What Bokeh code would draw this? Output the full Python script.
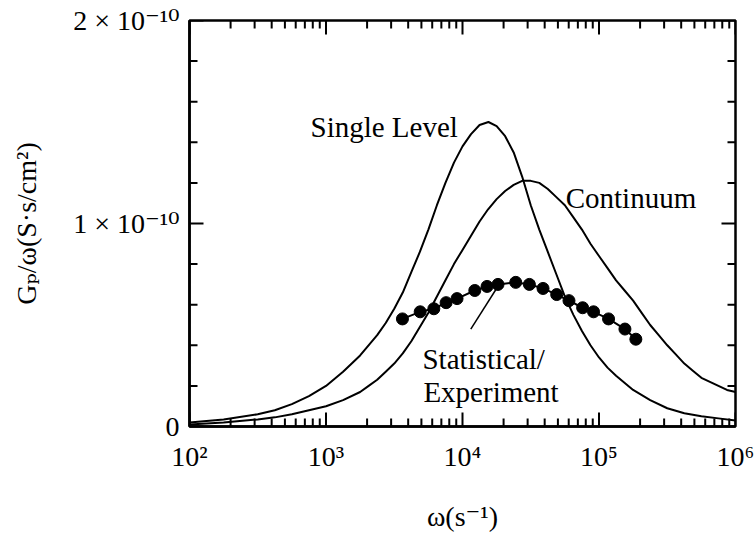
from bokeh.plotting import figure
from bokeh.models import FixedTicker, Label, Range1d
from bokeh.embed import file_html
from bokeh.resources import INLINE

# ---- data (y in units of 1e-10 S·s/cm^2, x as log10(omega)) ----
single_log_w = [2.0, 2.25, 2.5, 2.625, 2.75, 2.875, 3.0, 3.125, 3.25, 3.375, 3.4375,
                3.5, 3.5625, 3.625, 3.6875, 3.75, 3.8125, 3.875, 3.9375, 4.0, 4.0625,
                4.125, 4.19, 4.25, 4.3125, 4.375, 4.4375, 4.5, 4.5625, 4.625, 4.6875,
                4.75, 4.8125, 4.875, 4.9375, 5.0, 5.0625, 5.125, 5.25, 5.375, 5.5,
                5.625, 5.75, 5.875, 6.0]
single_g = [0.02, 0.035, 0.06, 0.08, 0.11, 0.15, 0.20, 0.27, 0.35, 0.45, 0.51,
            0.58, 0.66, 0.76, 0.86, 0.97, 1.09, 1.20, 1.30, 1.38, 1.44,
            1.485, 1.50, 1.48, 1.43, 1.35, 1.23, 1.09, 0.97, 0.86, 0.75,
            0.64, 0.55, 0.47, 0.40, 0.34, 0.29, 0.25, 0.18, 0.13, 0.09,
            0.065, 0.05, 0.04, 0.03]

cont_log_w = [2.0, 2.25, 2.5, 2.625, 2.75, 2.875, 3.0, 3.125, 3.25, 3.3125, 3.375,
              3.4375, 3.5, 3.5625, 3.625, 3.6875, 3.75, 3.8125, 3.875, 3.9375, 4.0,
              4.0625, 4.125, 4.1875, 4.25, 4.3125, 4.375, 4.4375, 4.5, 4.5625, 4.625,
              4.6875, 4.75, 4.8125, 4.875, 4.9375, 5.0, 5.0625, 5.125, 5.1875, 5.25,
              5.3125, 5.375, 5.4375, 5.5, 5.5625, 5.625, 5.6875, 5.75, 5.8125, 5.875,
              5.9375, 6.0]
cont_g = [0.01, 0.02, 0.035, 0.045, 0.06, 0.08, 0.10, 0.13, 0.17, 0.20, 0.23,
          0.27, 0.31, 0.36, 0.42, 0.49, 0.56, 0.64, 0.72, 0.80, 0.87,
          0.94, 1.01, 1.07, 1.12, 1.16, 1.19, 1.21, 1.21, 1.20, 1.17,
          1.13, 1.09, 1.03, 0.97, 0.90, 0.84, 0.78, 0.72, 0.67, 0.62,
          0.56, 0.50, 0.45, 0.40, 0.355, 0.31, 0.275, 0.24, 0.22, 0.20,
          0.18, 0.17]

stat_log_w = [3.56, 3.69, 3.79, 3.88, 3.96, 4.09, 4.18, 4.26, 4.39, 4.49, 4.59, 4.69,
              4.78, 4.88, 4.96, 5.07, 5.19, 5.27]
stat_g = [0.53, 0.565, 0.58, 0.61, 0.63, 0.67, 0.69, 0.70, 0.71, 0.70, 0.68, 0.65,
          0.62, 0.585, 0.565, 0.53, 0.48, 0.43]

x_ticks = [1e2, 1e3, 1e4, 1e5, 1e6]
x_tick_labels = ["10²", "10³", "10⁴", "10⁵", "10⁶"]
y_ticks = [0, 1, 2]
y_tick_labels = ["0", "1 × 10⁻¹⁰", "2 × 10⁻¹⁰"]
x_minor = [k * 10 ** n for n in range(2, 6) for k in range(2, 10)]
y_minor = [0.2, 0.4, 0.6, 0.8, 1.2, 1.4, 1.6, 1.8]

FONT = "'Liberation Serif', 'Times New Roman', 'DejaVu Serif', serif"
X0, X1, Y0, Y1 = 1e2, 1e6, 0, 2
W, H = 755, 534
BL, BR, BT, BB = 189, 20, 20, 106
FRAME_W, FRAME_H = W - BL - BR, H - BT - BB
DEC_PER_PX = 4.0 / FRAME_W          # decades of x per pixel
Y_PER_PX = (Y1 - Y0) / FRAME_H      # y units per pixel

single_w = [10 ** v for v in single_log_w]
cont_w = [10 ** v for v in cont_log_w]
stat_w = [10 ** v for v in stat_log_w]

p = figure(width=W, height=H, x_axis_type="log",
           x_range=Range1d(X0, X1), y_range=Range1d(Y0, Y1),
           output_backend="svg", toolbar_location=None,
           min_border_left=BL, min_border_right=BR,
           min_border_top=BT, min_border_bottom=BB)
p.grid.visible = False
p.outline_line_color = "black"
p.outline_line_width = 2.5
p.background_fill_color = "white"
p.border_fill_color = "white"

def style_axis(ax, ticker):
    ax.ticker = ticker
    ax.axis_line_width = 2.5
    ax.axis_line_color = "black"
    ax.major_tick_in = 0
    ax.major_tick_out = 0
    ax.minor_tick_in = 0
    ax.minor_tick_out = 0
    ax.major_label_text_font = FONT
    ax.major_label_text_font_size = "28px"
    ax.major_label_text_color = "black"
    ax.axis_label_text_font = FONT
    ax.axis_label_text_font_size = "28px"
    ax.axis_label_text_font_style = "normal"
    ax.axis_label_text_color = "black"

xa = p.xaxis[0]
style_axis(xa, FixedTicker(ticks=x_ticks, minor_ticks=x_minor))
xa.major_label_overrides = {int(t): s for t, s in zip(x_ticks, x_tick_labels)}
xa.major_label_standoff = 14
xa.axis_label = "ω(s⁻¹)"
xa.axis_label_standoff = 26

ya = p.yaxis[0]
style_axis(ya, FixedTicker(ticks=y_ticks, minor_ticks=y_minor))
ya.major_label_overrides = {t: s for t, s in zip(y_ticks, y_tick_labels)}
ya.major_label_standoff = 10
ya.axis_label = "Gₚ/ω(S·s/cm²)"
ya.axis_label_standoff = 28

# inward tick marks on all four sides, drawn as thin filled quads (2 px wide)
ql, qr, qb, qt = [], [], [], []
half_x = 10 ** (1.0 * DEC_PER_PX)   # 1 px either side on the log axis
half_y = 1.0 * Y_PER_PX             # 1 px either side on the linear axis
for xs, length_px in ((x_ticks, 14), (x_minor, 8)):
    d = length_px * Y_PER_PX
    for x in xs:
        ql += [x / half_x, x / half_x]
        qr += [x * half_x, x * half_x]
        qb += [Y0, Y1 - d]
        qt += [Y0 + d, Y1]
for ys, length_px in ((y_ticks, 14), (y_minor, 8)):
    f = 10 ** (length_px * DEC_PER_PX)
    for y in ys:
        ql += [X0, X1 / f]
        qr += [X0 * f, X1]
        qb += [y - half_y, y - half_y]
        qt += [y + half_y, y + half_y]

p.quad(left=ql, right=qr, bottom=qb, top=qt, fill_color="black", line_color=None)

p.line(single_w, single_g, line_color="black", line_width=2)
p.line(cont_w, cont_g, line_color="black", line_width=2)
p.line(stat_w, stat_g, line_color="black", line_width=2)
p.scatter(stat_w, stat_g, size=12, marker="circle", fill_color="black", line_color="black")

# leader line for the Statistical/Experiment label
p.segment(x0=[1.15e4], y0=[0.48], x1=[1.8e4], y1=[0.686], line_color="black", line_width=1.5)

def add_label(x, y, text):
    p.add_layout(Label(x=x, y=y, text=text, text_font=FONT, text_font_size="29px",
                       text_color="black", text_baseline="alphabetic", text_align="left"))

add_label(770, 1.475, "Single Level")
add_label(5.7e4, 1.127, "Continuum")
add_label(5.09e3, 0.333, "Statistical/")
add_label(5.17e3, 0.172, "Experiment")

open("out.html", "w").write(file_html(p, INLINE))
